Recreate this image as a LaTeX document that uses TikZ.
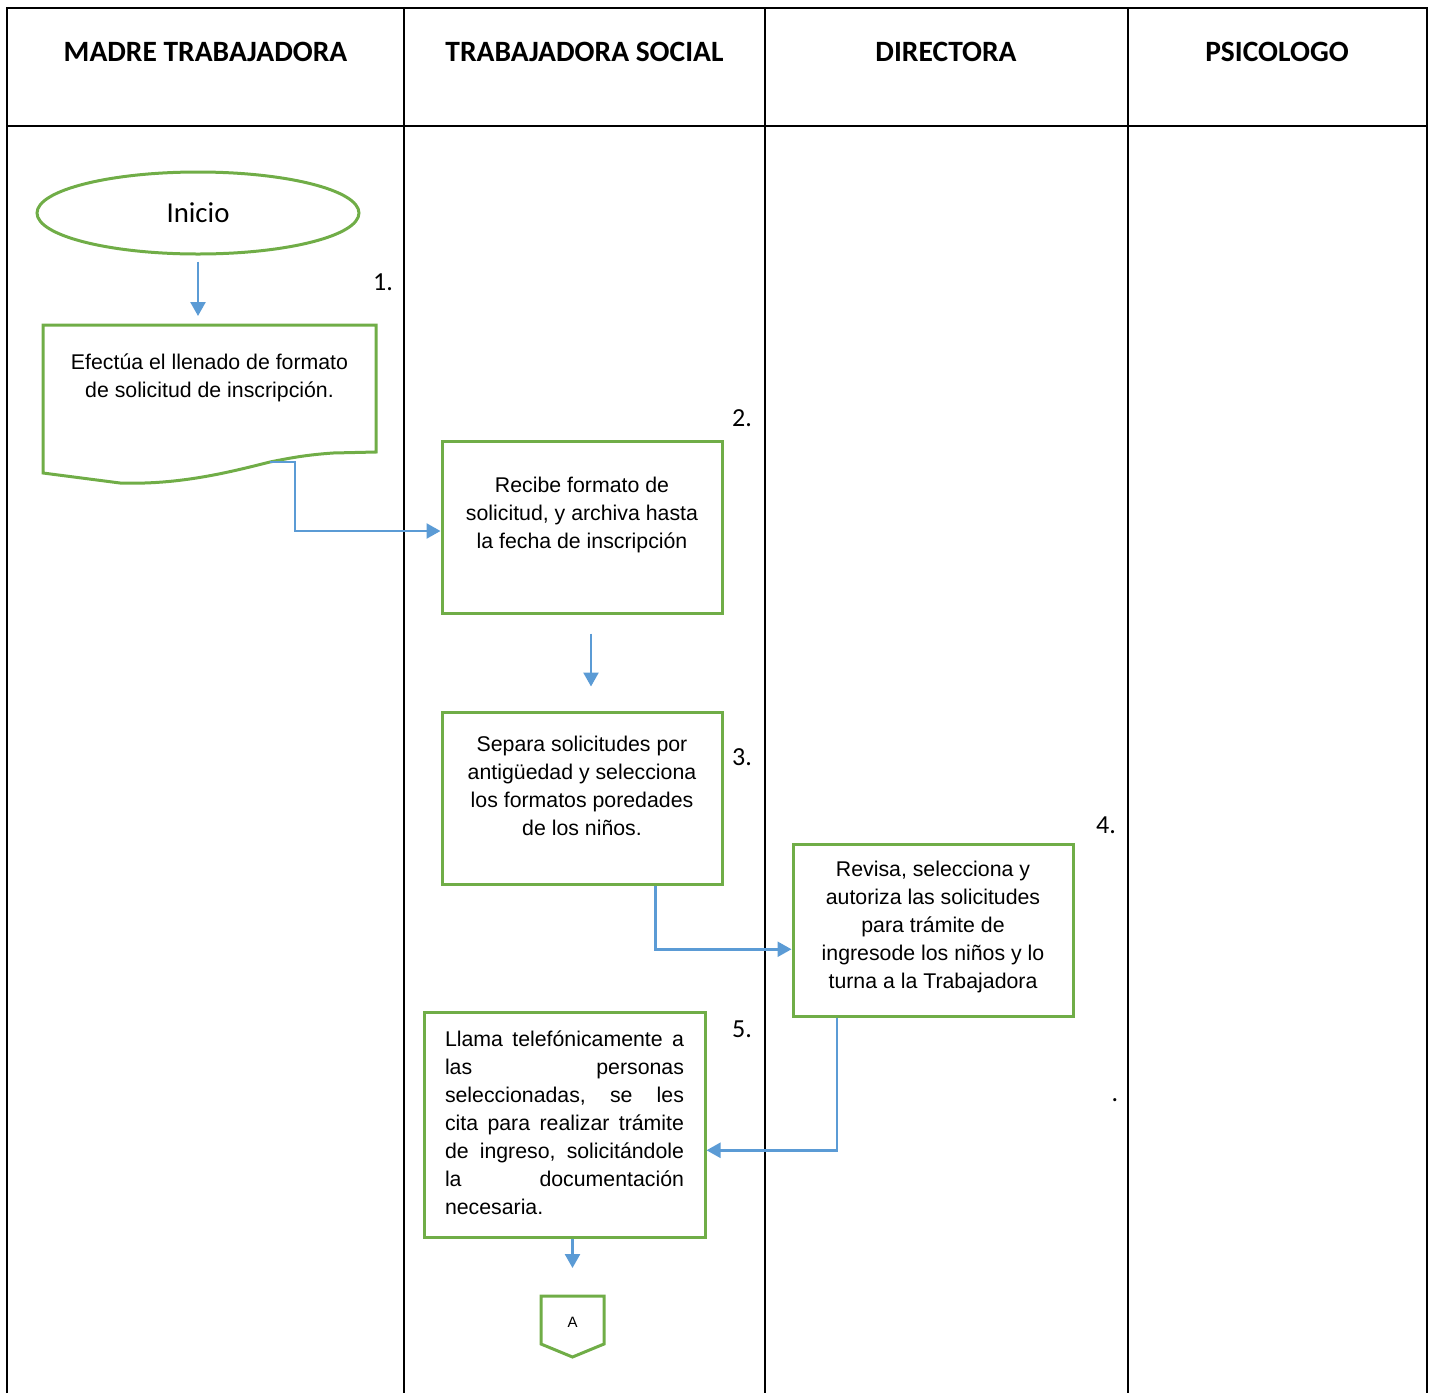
\documentclass[tikz,border=0pt]{standalone}
\usepackage{fontspec}
\setmainfont{Liberation Sans}
\newfontfamily\calfont{Carlito}
\usetikzlibrary{arrows.meta,calc,shapes.geometric}
\definecolor{lgreen}{RGB}{112,173,71}
\definecolor{lblue}{RGB}{91,155,213}
\begin{document}
\begin{tikzpicture}[x=1pt,y=-1pt,
  grid/.style={line width=2.4pt,black},
  hdr/.style={font=\calfont\bfseries\fontsize{29.5}{34}\selectfont,inner sep=0pt},
  num/.style={font=\calfont\fontsize{26}{30}\selectfont,inner sep=0pt},
  body/.style={font=\fontsize{21.3}{28}\selectfont,align=center,inner sep=0pt},
  gbox/.style={draw=lgreen,line width=3pt,rectangle,inner sep=0pt},
  conn/.style={draw=lblue,line width=2.5pt,-{Triangle[length=14pt,width=15pt]}}]
\useasboundingbox (0,0) rectangle (1432,1393);
% table
\draw[grid] (7,1393) -- (7,8) -- (1427,8) -- (1427,1393);
\draw[grid] (7,126) -- (1427,126);
\draw[grid] (404,8) -- (404,1393);
\draw[grid] (765,8) -- (765,1393);
\draw[grid] (1128,8) -- (1128,1393);
\node[hdr] (h1) at (205.5,52) {MADRE TRABAJADORA};
\node[hdr] (h2) at (584.5,52) {TRABAJADORA SOCIAL};
\node[hdr] (h3) at (946,52) {DIRECTORA};
\node[hdr] (h4) at (1277,52) {PSICOLOGO};
% start
\node[draw=lgreen,line width=3pt,ellipse,minimum width=322pt,minimum height=82pt,inner sep=0pt,
  font=\calfont\fontsize{28.8}{32}\selectfont] (ini) at (198,213) {Inicio};
% document shape
\draw[lgreen,line width=3pt] (43,325) -- (376,325) -- (376,452) -- (333,453)
  .. controls (305,455) and (290,458) .. (270,462)
  .. controls (230,472) and (180,485) .. (120,483) -- (43,473) -- cycle;
\coordinate (docin) at (198,325);
\coordinate (docout) at (270,462);
\node[body] (t1) at (209.5,377.5) {Efectúa el llenado de formato\\de solicitud de inscripción.};
\node[num] (n1) at (383,282) {1.};
% box 2
\node[gbox,minimum width=280pt,minimum height=172pt] (b2) at (582,527) {};
\node[body] (t2) at (582,515) {Recibe formato de\\solicitud, y archiva hasta\\la fecha de inscripción};
\node[num] (n2) at (742,418) {2.};
% box 3
\node[gbox,minimum width=280pt,minimum height=172pt] (b3) at (582,798) {};
\node[body] (t3) at (582,786) {Separa solicitudes por\\antigüedad y selecciona\\los formatos poredades\\de los niños.};
\node[num] (n3) at (742,757) {3.};
% box 4
\node[gbox,minimum width=280pt,minimum height=172pt] (b4) at (933,930) {};
\node[body] (t4) at (933,926.5) {Revisa, selecciona y\\autoriza las solicitudes\\para trámite de\\ingresode los niños y lo\\turna a la Trabajadora};
\node[num] (n4) at (1106,825) {4.};
\node[num] (dot) at (1115,1100) {.};
% box 5
\node[gbox,minimum width=281pt,minimum height=225pt] (b5) at (564.5,1124.5) {};
\node[body,align=left,text width=239pt] (t5) at (564.5,1122.5) {%
\makebox[239pt]{Llama\hfill telefónicamente\hfill a}\\
\makebox[239pt]{las\hfill personas}\\
\makebox[239pt]{seleccionadas,\hfill se\hfill les}\\
\makebox[239pt]{cita\hfill para\hfill realizar\hfill trámite}\\
\makebox[239pt]{de\hfill ingreso,\hfill solicitándole}\\
\makebox[239pt]{la\hfill documentación}\\
necesaria.};
\node[num] (n5) at (742,1029) {5.};
% off-page connector
\draw[lgreen,line width=3pt] (541,1296) -- (604,1296) -- (604,1344) -- (572.5,1357) -- (541,1344) -- cycle;
\node[font=\fontsize{15}{17}\selectfont,inner sep=0pt] (A) at (572.5,1322) {A};
\coordinate (Atop) at (572.5,1296);
% connectors
\draw[conn,shorten <=6pt,shorten >=9pt] (ini.south) -- (docin);
\draw[conn] (docout) -- (295,462) |- ([yshift=-4pt]b2.west);
\draw[conn,shorten <=19pt,shorten >=24pt] ([xshift=9pt]b2.south) -- ([xshift=9pt]b3.north);
\draw[conn] ($(b3.south west)!0.76!(b3.south east)$) |- ($(b4.north west)!0.61!(b4.south west)$);
\draw[conn] ($(b4.south west)!0.16!(b4.south east)$) |- ($(b5.north east)!0.613!(b5.south east)$);
\draw[conn,shorten >=28pt] (b5.south -| Atop) -- (Atop);
\end{tikzpicture}
\end{document}
